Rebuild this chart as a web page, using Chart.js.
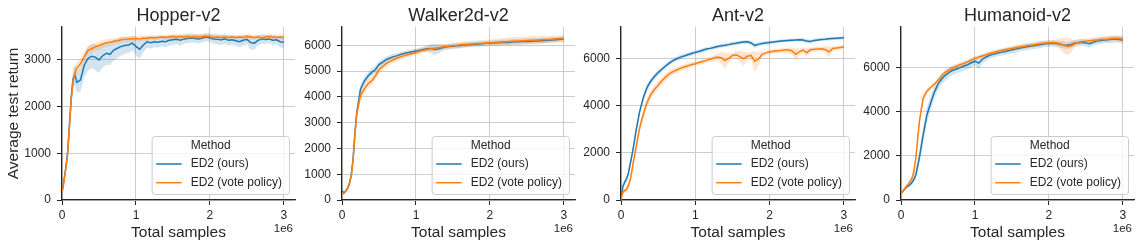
<!DOCTYPE html>
<html>
<head>
<meta charset="utf-8">
<script src="https://cdn.jsdelivr.net/npm/chart.js@4.4.0/dist/chart.umd.min.js"></script>
<style>
  body { margin: 0; background: #fff; }
  #wrap { position: relative; width: 1140px; height: 247px; }
  #wrap canvas { position: absolute; left: 0; top: 0; }
</style>
</head>
<body>
<div id="wrap">
  <canvas id="c0" width="1140" height="247"></canvas>
  <canvas id="c1" width="1140" height="247"></canvas>
  <canvas id="c2" width="1140" height="247"></canvas>
  <canvas id="c3" width="1140" height="247"></canvas>
</div>
<script>
// x positions of the samples, in millions of total samples
const xSteps = [
  0, 0.025, 0.05, 0.075, 0.1, 0.125, 0.15, 0.175, 0.2, 0.25, 0.3, 0.35, 0.4,
  0.45, 0.5, 0.55, 0.6, 0.65, 0.7, 0.75, 0.8, 0.85, 0.9, 0.95, 1.0, 1.05,
  1.1, 1.15, 1.2, 1.25, 1.3, 1.35, 1.4, 1.45, 1.5, 1.55, 1.6, 1.65, 1.7,
  1.75, 1.8, 1.85, 1.9, 1.95, 2.0, 2.05, 2.1, 2.15, 2.2, 2.25, 2.3, 2.35,
  2.4, 2.45, 2.5, 2.55, 2.6, 2.65, 2.7, 2.75, 2.8, 2.85, 2.9, 2.95, 3.0
];
const xTicks = [0, 1, 2, 3];
const envNames = ["Hopper-v2", "Walker2d-v2", "Ant-v2", "Humanoid-v2"];
const methodNames = ["ED2 (ours)", "ED2 (vote policy)"];

// Hopper-v2
const hopperOurs = [
  150, 400, 680, 1000, 1600, 2200, 2600, 2680, 2520, 2570, 2880, 3030, 3080,
  3060, 3000, 3090, 3140, 3120, 3210, 3250, 3290, 3310, 3320, 3360, 3290, 3230,
  3320, 3390, 3370, 3390, 3380, 3400, 3390, 3420, 3430, 3440, 3420, 3450, 3460,
  3470, 3460, 3450, 3470, 3490, 3470, 3450, 3440, 3430, 3450, 3420, 3430, 3410,
  3390, 3420, 3440, 3370, 3360, 3420, 3450, 3440, 3450, 3420, 3430, 3390, 3380
];
const hopperOursSd = [
  40, 60, 80, 120, 150, 200, 220, 220, 220, 250, 250, 260, 250,
  280, 280, 250, 250, 230, 220, 200, 200, 180, 170, 160, 200, 200,
  150, 130, 130, 120, 120, 110, 120, 110, 110, 100, 110, 100, 100,
  100, 90, 100, 90, 80, 90, 100, 110, 110, 100, 110, 100, 110,
  120, 110, 100, 150, 140, 110, 100, 100, 90, 100, 100, 120, 130
];
const hopperVote = [
  150, 380, 650, 950, 1550, 2150, 2550, 2720, 2820, 2920, 3060, 3200, 3240,
  3280, 3310, 3340, 3370, 3380, 3400, 3410, 3430, 3440, 3450, 3450, 3460, 3450,
  3470, 3460, 3480, 3470, 3480, 3490, 3480, 3490, 3500, 3490, 3500, 3490, 3500,
  3490, 3500, 3490, 3500, 3510, 3500, 3480, 3490, 3480, 3490, 3480, 3490, 3480,
  3490, 3480, 3500, 3490, 3480, 3490, 3470, 3490, 3500, 3490, 3480, 3490, 3480
];
const hopperVoteSd = [
  40, 60, 80, 100, 150, 150, 150, 140, 130, 120, 110, 100, 100,
  90, 90, 80, 80, 80, 70, 70, 70, 60, 60, 60, 60, 60,
  60, 50, 50, 60, 50, 50, 60, 50, 50, 50, 60, 50, 50,
  50, 60, 50, 50, 50, 60, 60, 50, 60, 50, 60, 50, 60,
  50, 60, 50, 60, 50, 60, 60, 50, 50, 60, 50, 60, 60
];

// Walker2d-v2
const walkerOurs = [
  360, 270, 350, 450, 650, 950, 1600, 2600, 3400, 4300, 4600, 4800, 4950,
  5050, 5250, 5350, 5450, 5510, 5560, 5600, 5650, 5690, 5720, 5750, 5780, 5810,
  5840, 5870, 5880, 5840, 5860, 5900, 5930, 5950, 5960, 5980, 5990, 6010, 6020,
  6030, 6040, 6050, 6060, 6080, 6080, 6090, 6100, 6110, 6120, 6110, 6130, 6140,
  6140, 6150, 6150, 6160, 6170, 6170, 6180, 6190, 6200, 6210, 6220, 6230, 6250
];
const walkerOursSd = [
  80, 50, 50, 60, 80, 100, 150, 200, 200, 180, 150, 150, 150,
  140, 130, 120, 120, 110, 110, 100, 100, 100, 100, 100, 100, 100,
  100, 120, 160, 220, 180, 130, 100, 100, 100, 100, 100, 100, 100,
  100, 100, 100, 100, 100, 100, 110, 110, 110, 110, 120, 110, 110,
  110, 110, 110, 110, 110, 110, 110, 100, 100, 100, 100, 100, 100
];
const walkerVote = [
  240, 260, 340, 440, 620, 920, 1550, 2550, 3350, 4050, 4300, 4500, 4620,
  4800, 5050, 5180, 5300, 5380, 5450, 5510, 5560, 5600, 5640, 5680, 5720, 5770,
  5810, 5840, 5870, 5890, 5910, 5930, 5950, 5970, 5990, 6000, 6020, 6030, 6040,
  6050, 6060, 6070, 6080, 6090, 6100, 6110, 6120, 6130, 6140, 6150, 6160, 6170,
  6170, 6180, 6190, 6200, 6200, 6210, 6220, 6230, 6230, 6240, 6250, 6260, 6270
];
const walkerVoteSd = [
  60, 50, 50, 60, 80, 120, 180, 220, 220, 200, 180, 170, 160,
  150, 150, 140, 130, 120, 120, 110, 110, 100, 100, 100, 100, 100,
  100, 100, 110, 110, 110, 110, 110, 110, 110, 120, 120, 120, 120,
  120, 120, 120, 130, 130, 130, 130, 140, 140, 140, 150, 150, 150,
  150, 150, 150, 160, 160, 150, 150, 150, 140, 140, 130, 130, 130
];

// Ant-v2
const antOurs = [
  50, 580, 760, 900, 1150, 1550, 1950, 2400, 2900, 3750, 4350, 4780, 5050,
  5250, 5420, 5560, 5700, 5820, 5930, 6010, 6080, 6130, 6180, 6230, 6280, 6320,
  6370, 6420, 6450, 6490, 6530, 6560, 6580, 6610, 6650, 6670, 6700, 6720, 6730,
  6680, 6580, 6620, 6660, 6680, 6700, 6720, 6740, 6760, 6780, 6790, 6800, 6810,
  6820, 6810, 6760, 6740, 6790, 6810, 6830, 6840, 6860, 6870, 6880, 6890, 6900
];
const antOursSd = [
  50, 100, 100, 100, 120, 150, 150, 150, 150, 150, 150, 140, 130,
  120, 110, 110, 100, 100, 100, 100, 100, 90, 90, 90, 90, 90,
  90, 80, 80, 80, 80, 80, 80, 80, 80, 80, 80, 80, 80,
  90, 110, 90, 80, 80, 80, 70, 70, 70, 70, 70, 70, 70,
  70, 80, 90, 80, 70, 70, 70, 70, 70, 70, 70, 70, 70
];
const antVote = [
  0, 330, 400, 450, 620, 870, 1300, 1770, 2200, 3050, 3650, 4150, 4480,
  4700, 4880, 5070, 5230, 5370, 5460, 5530, 5600, 5660, 5710, 5760, 5800, 5850,
  5890, 5940, 5990, 6040, 6080, 6050, 5930, 6030, 6150, 6180, 6100, 6010, 6120,
  6150, 5900, 5990, 6200, 6260, 6300, 6330, 6350, 6360, 6380, 6380, 6350, 6200,
  6300, 6380, 6260, 6390, 6410, 6420, 6430, 6400, 6300, 6450, 6470, 6490, 6510
];
const antVoteSd = [
  50, 100, 100, 120, 150, 180, 200, 200, 200, 200, 200, 200, 180,
  170, 160, 150, 150, 140, 130, 120, 120, 110, 110, 110, 100, 100,
  100, 100, 100, 120, 150, 250, 350, 200, 120, 150, 250, 300, 150,
  150, 450, 300, 120, 100, 100, 100, 100, 100, 100, 100, 150, 250,
  150, 120, 200, 100, 100, 100, 100, 150, 220, 100, 100, 100, 100
];

// Humanoid-v2
const humanoidOurs = [
  300, 390, 500, 580, 640, 700, 800, 950, 1130, 1950, 2950, 3850, 4380,
  4880, 5250, 5480, 5650, 5780, 5880, 5940, 6000, 6070, 6130, 6220, 6290, 6200,
  6380, 6480, 6560, 6610, 6650, 6690, 6720, 6760, 6800, 6840, 6880, 6910, 6940,
  6970, 6990, 7020, 7050, 7080, 7090, 7100, 7090, 7060, 7020, 7010, 7050, 7110,
  7130, 7150, 7120, 7080, 7150, 7200, 7230, 7250, 7260, 7280, 7290, 7270, 7240
];
const humanoidOursSd = [
  60, 60, 70, 80, 80, 90, 100, 150, 200, 300, 350, 350, 330,
  300, 280, 260, 240, 220, 200, 200, 200, 200, 200, 200, 200, 280,
  200, 170, 160, 150, 150, 150, 150, 150, 150, 150, 150, 150, 150,
  150, 150, 150, 150, 150, 140, 140, 140, 150, 160, 150, 150, 150,
  150, 150, 160, 180, 150, 150, 150, 150, 150, 150, 150, 160, 170
];
const humanoidVote = [
  300, 400, 520, 620, 720, 860, 1000, 1300, 1900, 3600, 4620, 4930, 5100,
  5250, 5420, 5620, 5780, 5890, 5980, 6060, 6130, 6190, 6260, 6340, 6420, 6480,
  6530, 6580, 6640, 6690, 6730, 6770, 6810, 6840, 6870, 6900, 6930, 6960, 6990,
  7010, 7040, 7070, 7090, 7110, 7130, 7140, 7130, 7080, 7010, 6960, 6980, 7080,
  7150, 7180, 7200, 7220, 7240, 7250, 7270, 7290, 7300, 7320, 7330, 7320, 7310
];
const humanoidVoteSd = [
  60, 60, 70, 80, 80, 100, 120, 150, 200, 200, 150, 120, 100,
  100, 100, 100, 100, 100, 100, 100, 100, 100, 100, 100, 100, 100,
  100, 100, 100, 100, 100, 100, 100, 100, 110, 110, 110, 110, 110,
  110, 110, 110, 110, 110, 110, 110, 150, 250, 350, 400, 300, 150,
  120, 120, 120, 120, 120, 120, 120, 130, 130, 130, 130, 130, 130
];

const yTicksList = [
  [0, 1000, 2000, 3000],
  [0, 1000, 2000, 3000, 4000, 5000, 6000],
  [0, 2000, 4000, 6000],
  [0, 2000, 4000, 6000]
];
const yMaxList = [3705, 6710, 7360, 7840];

const ours = [hopperOurs, walkerOurs, antOurs, humanoidOurs];
const oursSd = [hopperOursSd, walkerOursSd, antOursSd, humanoidOursSd];
const vote = [hopperVote, walkerVote, antVote, humanoidVote];
const voteSd = [hopperVoteSd, walkerVoteSd, antVoteSd, humanoidVoteSd];

// chart area edges for each panel, in page pixels
const areaLeft = [62, 342, 621, 901];
const areaRight = [295, 575, 855, 1134];

const BLUE = "#1f77b4", ORANGE = "#ff7f0e";
const INK = "#262626";
const FONT = "'Liberation Sans', Arial, sans-serif";

Chart.defaults.font.family = FONT;
Chart.defaults.color = INK;

function bandSets(mean, sd, color, fill) {
    const line = { data: xSteps.map((x, i) => ({ x, y: mean[i] })), borderColor: color, borderWidth: 1.5, fill: false };
    const hi = { data: xSteps.map((x, i) => ({ x, y: mean[i] + sd[i] })), borderWidth: 0, borderColor: "rgba(0,0,0,0)", fill: false };
    const lo = { data: xSteps.map((x, i) => ({ x, y: mean[i] - sd[i] })), borderWidth: 0, borderColor: "rgba(0,0,0,0)", fill: "-1", backgroundColor: fill };
    return [line, hi, lo];
}

// title, offset text and legend drawn inside each panel
const panelDecor = {
    id: "panelDecor",
    afterDraw(chart, args, opts) {
        const ctx = chart.ctx, a = chart.chartArea;
        ctx.save();
        ctx.fillStyle = INK;
        ctx.textBaseline = "middle";
        ctx.textAlign = "center";
        ctx.font = "18px " + FONT;
        ctx.fillText(opts.title, (a.left + a.right) / 2, 16);
        ctx.textAlign = "right";
        ctx.font = "11.5px " + FONT;
        ctx.fillText("1e6", a.right - 2, 229);

        // legend
        ctx.font = "12px " + FONT;
        let tw = 0;
        methodNames.forEach(n => { tw = Math.max(tw, ctx.measureText(n).width); });
        const w = 39 + tw + 7, h = 58;
        const bx = a.right - 6 - w, by = a.bottom - 6 - h;
        ctx.beginPath();
        ctx.roundRect(bx + 0.5, by + 0.5, w, h, 3);
        ctx.fillStyle = "rgba(255,255,255,0.8)";
        ctx.fill();
        ctx.strokeStyle = "#cccccc";
        ctx.lineWidth = 1;
        ctx.stroke();
        ctx.textAlign = "left";
        ctx.fillStyle = INK;
        ctx.fillText("Method", bx + 39, by + 10);
        [BLUE, ORANGE].forEach((c, i) => {
            const yy = by + 28 + i * 18.7;
            ctx.beginPath();
            ctx.moveTo(bx + 4.5, yy);
            ctx.lineTo(bx + 30, yy);
            ctx.strokeStyle = c;
            ctx.lineWidth = 1.5;
            ctx.stroke();
            ctx.fillStyle = INK;
            ctx.fillText(methodNames[i], bx + 39, yy);
        });
        ctx.restore();
    }
};

envNames.forEach((name, k) => {
    const yW = k === 0 ? 62 : 45;
    const datasets = [
        ...bandSets(vote[k], voteSd[k], ORANGE, "rgba(255,127,14,0.2)"),
        ...bandSets(ours[k], oursSd[k], BLUE, "rgba(31,119,180,0.2)")
    ];
    new Chart(document.getElementById("c" + k), {
        type: "line",
        data: { datasets },
        plugins: [panelDecor],
        options: {
            responsive: false,
            animation: false,
            events: [],
            layout: { padding: { left: areaLeft[k] - yW, right: 1140 - areaRight[k], top: 27, bottom: 0 } },
            elements: { point: { radius: 0 }, line: { tension: 0 } },
            plugins: {
                legend: { display: false },
                tooltip: { enabled: false },
                panelDecor: { title: name }
            },
            scales: {
                x: {
                    type: "linear",
                    min: 0,
                    max: 3.15,
                    afterBuildTicks: s => { s.ticks = xTicks.map(v => ({ value: v })); },
                    afterFit: s => { s.height = 47; },
                    grid: { color: "#cccccc", tickColor: INK, tickLength: 5, lineWidth: 1 },
                    border: { color: INK, width: 1.25 },
                    ticks: { font: { size: 12 }, color: INK, padding: 3, maxRotation: 0, callback: v => String(v) },
                    title: { display: true, text: "Total samples", font: { size: 15.5 }, color: INK, padding: { top: 0, bottom: 5 } }
                },
                y: {
                    type: "linear",
                    min: 0,
                    max: yMaxList[k],
                    afterBuildTicks: s => { s.ticks = yTicksList[k].map(v => ({ value: v })); },
                    afterFit: s => { s.width = yW; },
                    grid: { color: "#cccccc", tickColor: INK, tickLength: 5, lineWidth: 1 },
                    border: { color: INK, width: 1.25 },
                    ticks: { font: { size: 12 }, color: INK, padding: 6, callback: v => String(v) },
                    title: { display: k === 0, text: "Average test return", font: { size: 15.5 }, color: INK, padding: { top: 4, bottom: 0 } }
                }
            }
        }
    });
});
</script>
</body>
</html>
